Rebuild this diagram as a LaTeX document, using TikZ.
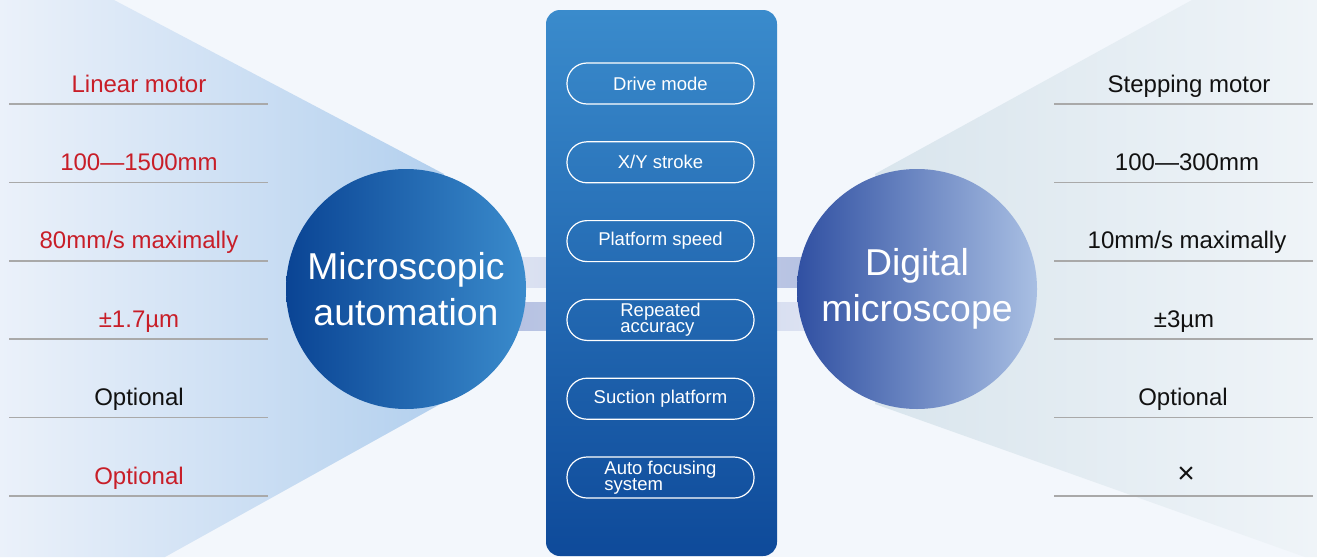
\documentclass[tikz,border=0pt]{standalone}
\usepackage{fontspec}
\setmainfont{Liberation Sans}
\usetikzlibrary{
    positioning,
}
\definecolor{bgpaper}{HTML}{F3F7FC}
\definecolor{coneL1}{HTML}{EBF1FA}
\definecolor{coneL2}{HTML}{B3D0EE}
\definecolor{coneR1}{HTML}{D9E5ED}
\definecolor{coneR2}{HTML}{EFF4F8}
\definecolor{barLight}{HTML}{EBEFF8}
\definecolor{barDark}{HTML}{A7B5DC}
\definecolor{ballA1}{HTML}{0A4494}
\definecolor{ballA2}{HTML}{3A8BCC}
\definecolor{ballB1}{HTML}{3050A2}
\definecolor{ballB2}{HTML}{A9BFE3}
\definecolor{panelTop}{HTML}{3A8BCC}
\definecolor{panelBot}{HTML}{0E4A9A}
\definecolor{specRed}{HTML}{C81E28}
\definecolor{specBlack}{HTML}{111111}
\definecolor{ruleGray}{HTML}{A9A9A9}
\tikzstyle{bigball} = [circle, minimum size=120pt, inner sep=0pt,
    text=white, align=center, font=\fontsize{18.7}{23}\selectfont]
\tikzstyle{panel} = [rectangle, rounded corners=7pt, minimum width=115.5pt,
    minimum height=273pt, top color=panelTop, bottom color=panelBot]
\tikzstyle{pill} = [rectangle, rounded corners=10pt, draw=white, line width=0.6pt,
    minimum width=93.5pt, minimum height=20.5pt, inner sep=0pt,
    text=white, align=left, font=\fontsize{9.25}{8.2}\selectfont]
\tikzstyle{spec} = [anchor=base, font=\fontsize{12}{14}\selectfont]
\tikzstyle{rule} = [draw=ruleGray, line width=0.8pt]

\begin{document}
\begin{tikzpicture}[x=0.5pt, y=-0.5pt, node distance=18.3pt]
        % Canvas
        \fill[bgpaper] (0,0) rectangle (1317,557);
        \useasboundingbox (0,0) rectangle (1317,557);
        \coordinate (lc) at (406,289);
        \coordinate (rc) at (917,289);
        % Light cones behind the balls
        \shade[left color=coneL1, right color=coneL2]
            (0,0) -- (114,0) -- (444,174) -- (lc) -- (444,402) -- (165,557) -- (0,557) -- cycle;
        \shade[left color=coneR1, right color=coneR2]
            (1317,0) -- (1192,0) -- (875,174) -- (rc) -- (875,404) -- (1305,557) -- (1317,557) -- cycle;
        % Bars between the balls
        \shade[left color=barLight, right color=barDark] (lc |- 0,257) rectangle (rc |- 0,287);
        \shade[left color=barDark, right color=barLight] (lc |- 0,302) rectangle (rc |- 0,330);
        % Place nodes
        \node [bigball, left color=ballA1, right color=ballA2] (auto) at (lc) {Microscopic\\automation};
        \node [bigball, left color=ballB1, right color=ballB2] (digi) at (rc) {Digital\\microscope};
        \node [panel] (panel) at (661.5,283) {};
        \node [pill] (drive) at (660.5,83.5) {Drive mode};
        \node [pill, below=of drive] (stroke) {X/Y stroke};
        \node [pill, below=of stroke] (speed) {Platform speed};
        \node [pill, below=of speed] (repeat) {Repeated\\accuracy};
        \node [pill, below=of repeat] (suction) {Suction platform};
        \node [pill, below=of suction] (focus) {Auto focusing\\system};
        % Rules under the specs
        \foreach \y in {104,182.4,260.8,339.2,417.6,496} {
            \draw [rule] (9,\y) -- (268,\y);
            \draw [rule] (1054,\y) -- (1313,\y);
        }
        % Left specs
        \node [spec, text=specRed] (lmotor) at (139,92) {Linear motor};
        \node [spec, text=specRed] (lstroke) at (139,170.4) {100—1500mm};
        \node [spec, text=specRed] (lspeed) at (139,248.8) {80mm/s maximally};
        \node [spec, text=specRed] (lrepeat) at (139,327.2) {±1.7µm};
        \node [spec, text=specBlack] (lsuction) at (139,405.6) {Optional};
        \node [spec, text=specRed] (lfocus) at (139,484) {Optional};
        % Right specs
        \node [spec, text=specBlack] (rmotor) at (1189,92) {Stepping motor};
        \node [spec, text=specBlack] (rstroke) at (1187,170.4) {100—300mm};
        \node [spec, text=specBlack] (rspeed) at (1187,248.8) {10mm/s maximally};
        \node [spec, text=specBlack] (rrepeat) at (1184,327.2) {±3µm};
        \node [spec, text=specBlack] (rsuction) at (1183,405.6) {Optional};
        \node [spec, text=specBlack, font=\fontsize{15}{15}\selectfont] (rfocus) at (1186,483) {×};
    \end{tikzpicture}
\end{document}
